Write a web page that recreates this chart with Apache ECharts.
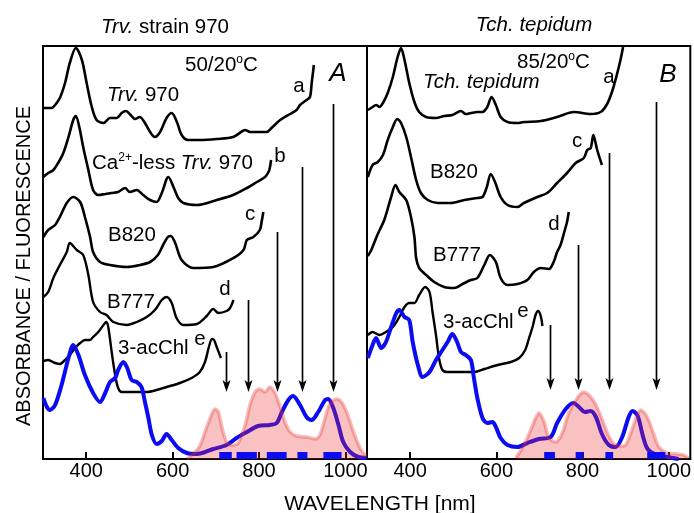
<!DOCTYPE html>
<html lang="en">
<head>
<meta charset="UTF-8">
<title>Absorbance / fluorescence</title>
<script src="https://cdn.jsdelivr.net/npm/echarts@6/dist/echarts.min.js"></script>
<style>
  html, body { margin: 0; padding: 0; background: #fff; }
  #chart { width: 694px; height: 513px; }
</style>
</head>
<body>
<div id="chart"></div>
<script>
// wavelength (nm), offset absorbance (arb. units, 0..413 = panel height)
// panel A: Trv. strain 970
const trvA = [[300,351],[320,351],[328,354],[339,361],[351,376],[362,396],[376,411],[390,399],[401,376],[413,352],[424,339],[440,336],[455,341],[471,341],[482,346],[492,348],[503,344],[513,340],[524,342],[536,336],[548,327],[559,322],[571,327],[586,341],[598,346],[610,337],[621,324],[636,319],[663,319],[702,320],[740,322],[762,328],[768,329],[779,327],[818,327],[829,331],[849,339],[872,345],[887,349],[895,354],[910,359],[918,362],[922,376],[927,394]];
const caLessA = [[301,282],[312,286],[324,289],[335,296],[347,306],[359,322],[370,339],[376,343],[384,332],[393,312],[405,289],[416,269],[428,264],[444,265],[459,266],[474,267],[490,271],[501,267],[517,269],[532,264],[548,259],[563,257],[575,266],[586,280],[590,282],[602,272],[613,261],[625,256],[656,254],[702,259],[740,264],[772,271],[795,277],[814,282],[822,287],[825,291],[828,299]];
const b820A = [[301,222],[312,229],[328,234],[339,242],[355,256],[370,262],[386,257],[397,242],[409,222],[416,207],[432,197],[455,194],[494,192],[525,194],[548,197],[566,204],[578,214],[589,222],[596,223],[606,216],[621,199],[648,191],[694,192],[741,201],[764,209],[772,219],[787,222],[802,229],[806,237],[810,247]];
const b777A = [[301,162],[312,167],[324,181],[339,194],[355,207],[362,216],[378,209],[393,204],[405,184],[416,157],[432,147],[447,144],[463,137],[494,134],[517,137],[540,142],[559,149],[575,159],[586,162],[598,156],[609,141],[625,134],[656,135],[679,143],[694,150],[706,146],[725,148],[733,151],[741,159]];
const acChlA = [[301,98],[312,99],[328,96],[339,95],[351,99],[362,104],[374,111],[386,116],[397,119],[409,119],[416,122],[428,127],[440,134],[446,137],[451,132],[459,107],[467,84],[474,71],[482,67],[509,67],[540,67],[563,69],[586,72],[617,76],[644,81],[663,87],[675,97],[684,112],[691,120],[696,119],[703,111],[712,101]];
const blueA = [[301,61],[309,52],[316,49],[328,54],[343,74],[359,101],[370,114],[382,104],[397,84],[416,66],[432,57],[444,66],[455,77],[467,81],[474,89],[486,97],[495,91],[505,79],[517,77],[528,72],[536,57],[544,41],[552,24],[563,15],[575,18],[586,25],[598,19],[613,11],[633,6],[656,5],[694,10],[725,14],[748,21],[772,27],[798,33],[825,34],[841,36],[853,47],[868,59],[879,63],[895,54],[910,42],[922,39],[937,47],[953,59],[960,60],[972,51],[984,34],[995,17],[1011,7],[1030,2],[1049,1]];
const fluorA = [[633,0],[652,7],[663,13],[675,27],[687,41],[698,50],[706,47],[714,32],[725,17],[737,14],[752,16],[768,34],[779,54],[791,67],[802,70],[814,67],[825,72],[837,66],[849,52],[860,37],[872,27],[887,23],[910,22],[930,20],[941,24],[953,41],[964,55],[980,60],[991,57],[1003,47],[1018,28],[1034,11],[1049,2]];
const arrowsA = [723, 775, 841, 900, 972];
const arrowTopsA = [107, 159, 227, 292, 355];
const bandsA = [[708,737],[748,795],[818,864],[889,912],[949,991]];

// panel B: Tch. tepidum
const tepidumB = [[302,349],[313,352],[321,354],[329,352],[337,356],[348,366],[360,382],[371,402],[379,411],[387,399],[398,376],[410,357],[421,347],[437,342],[460,341],[479,343],[498,344],[518,348],[529,345],[541,346],[556,347],[568,347],[579,352],[589,362],[599,354],[610,342],[626,337],[649,336],[664,337],[703,338],[741,342],[780,347],[819,345],[842,347],[857,355],[869,368],[880,385],[888,399],[894,412]];
const b820B = [[302,282],[313,294],[325,297],[337,304],[348,319],[360,332],[370,340],[379,336],[391,322],[402,302],[414,279],[425,266],[441,259],[464,256],[495,256],[526,259],[556,261],[568,262],[578,272],[587,285],[597,277],[610,262],[626,254],[649,252],[664,256],[695,262],[718,266],[741,276],[764,286],[784,296],[803,301],[811,309],[819,311],[825,324],[834,309],[845,294]];
const b777B = [[302,203],[310,209],[324,224],[340,239],[356,262],[366,274],[375,267],[391,259],[402,242],[410,222],[414,201],[421,191],[437,184],[456,177],[479,172],[502,171],[526,176],[541,179],[556,181],[572,194],[585,204],[599,197],[610,181],[626,174],[649,175],[672,179],[687,187],[703,191],[722,190],[733,197],[741,207],[749,214],[757,226],[764,237],[768,247]];
const acChlB = [[302,124],[313,127],[329,124],[344,127],[360,132],[375,142],[387,152],[398,156],[410,156],[421,164],[435,172],[445,167],[452,147],[460,124],[467,101],[475,89],[487,87],[518,87],[549,87],[572,90],[603,94],[634,97],[653,101],[667,109],[676,121],[684,132],[691,144],[697,148],[703,143],[707,133]];
const blueB = [[302,101],[313,114],[321,121],[333,111],[344,117],[356,132],[368,146],[375,149],[387,142],[398,139],[406,117],[418,94],[429,82],[445,87],[460,99],[475,109],[487,117],[498,125],[509,117],[518,107],[529,104],[541,99],[548,81],[556,61],[568,41],[579,36],[591,37],[599,32],[610,21],[626,14],[649,12],[672,16],[699,20],[726,22],[741,36],[761,50],[779,56],[794,51],[805,47],[819,48],[831,42],[845,25],[861,14],[877,12],[892,22],[907,42],[916,48],[928,43],[940,23],[951,10],[972,4],[995,2],[1023,0]];
const fluorB = [[645,1],[653,6],[664,14],[680,29],[691,41],[699,46],[711,37],[722,21],[738,17],[753,26],[768,46],[788,61],[802,67],[815,64],[830,55],[845,40],[861,23],[876,14],[896,13],[911,25],[926,43],[935,49],[949,43],[965,25],[977,12],[996,6],[1019,5],[1034,4],[1046,1]];
const arrowsB = [724, 789, 861, 970];
const arrowTopsB = [134, 214, 306, 357];
const bandsB = [[711,736],[784,802],[853,871],[950,992]];

const arrowTipA = 67, arrowTipB = 69;
const tickValues = [400, 600, 800, 1000];

const FONT = 'Liberation Sans, Arial, sans-serif';
const FS = 20.5;
const BLUE = '#0c0cf2';

var chart = echarts.init(document.getElementById('chart'));

function curve(data, i, color, width) {
  return {
    type: 'line', xAxisIndex: i, yAxisIndex: i, data: data,
    symbol: 'none', smooth: 0.3, silent: true,
    lineStyle: { color: color, width: width }, z: 2
  };
}
function fluor(data, i) {
  return {
    type: 'line', xAxisIndex: i, yAxisIndex: i, data: data,
    symbol: 'none', smooth: 0.3, silent: true,
    lineStyle: { color: 'rgba(235,45,45,0.33)', width: 3.5 },
    areaStyle: { color: 'rgba(235,45,45,0.42)' }, z: 3
  };
}
function arrows(xs, tops, tip, i) {
  return {
    type: 'custom', xAxisIndex: i, yAxisIndex: i, z: 5, silent: true,
    data: xs.map(function (x, k) { return [x, tops[k], tip]; }),
    renderItem: function (params, api) {
      var a = api.coord([api.value(0), api.value(1)]);
      var b = api.coord([api.value(0), api.value(2)]);
      var x = Math.round(b[0]) + 0.5;
      return { type: 'group', children: [
        { type: 'line', shape: { x1: x, y1: a[1], x2: x, y2: b[1] - 8 },
          style: { stroke: '#000', lineWidth: 1.7 } },
        { type: 'polygon', shape: { points: [[x - 4, b[1] - 12], [x, b[1] - 9], [x + 4, b[1] - 12], [x, b[1]]] },
          style: { fill: '#000' } }
      ] };
    }
  };
}
function bands(list, i) {
  return {
    type: 'custom', xAxisIndex: i, yAxisIndex: i, z: 6, silent: true,
    data: list,
    renderItem: function (params, api) {
      var p0 = api.coord([api.value(0), 7]);
      var p1 = api.coord([api.value(1), 0]);
      return { type: 'rect', shape: { x: p0[0], y: p0[1], width: p1[0] - p0[0], height: p1[1] - p0[1] },
        style: { fill: BLUE } };
    }
  };
}
function xAxis(i) {
  return {
    gridIndex: i, type: 'value', min: 300, max: 1050,
    axisLine: { show: true, lineStyle: { color: '#000', width: 2 } },
    axisTick: { show: true, inside: true, length: 7, customValues: tickValues, lineStyle: { color: '#000', width: 2 } },
    axisLabel: { customValues: tickValues, color: '#000', fontSize: 20, fontFamily: FONT, margin: 2,
      formatter: function (v) { return String(v); } },
    splitLine: { show: false }
  };
}
function yAxis(i) {
  return { gridIndex: i, type: 'value', min: 0, max: 413, show: false };
}
function txt(text, x, y, opt) {
  opt = opt || {};
  var fs = opt.size || FS;
  return {
    type: 'text', x: x, y: y, rotation: opt.rot || 0, z: 10,
    style: {
      text: text, fill: '#000', fontFamily: FONT, fontSize: fs,
      fontStyle: opt.italic ? 'italic' : 'normal',
      textAlign: opt.align || 'left', textVerticalAlign: 'middle',
      rich: {
        i: { fontStyle: 'italic', fontSize: fs, fontFamily: FONT, lineHeight: 23 },
        s: { fontSize: 12, fontFamily: FONT, verticalAlign: 'top', lineHeight: 23 },
        n: { fontSize: fs, fontFamily: FONT, lineHeight: 23 }
      }
    }
  };
}

var option = {
  animation: false,
  backgroundColor: '#fff',
  grid: [
    { left: 43, top: 46, width: 324, height: 413, show: true, borderColor: '#000', borderWidth: 2, backgroundColor: 'transparent' },
    { left: 367, top: 46, width: 325, height: 413, show: true, borderColor: '#000', borderWidth: 2, backgroundColor: 'transparent' }
  ],
  xAxis: [xAxis(0), xAxis(1)],
  yAxis: [yAxis(0), yAxis(1)],
  series: [
    curve(trvA, 0, '#000', 2.6),
    curve(caLessA, 0, '#000', 2.6),
    curve(b820A, 0, '#000', 2.6),
    curve(b777A, 0, '#000', 2.4),
    curve(acChlA, 0, '#000', 2.4),
    curve(blueA, 0, BLUE, 4),
    fluor(fluorA, 0),
    arrows(arrowsA, arrowTopsA, arrowTipA, 0),
    bands(bandsA, 0),
    curve(tepidumB, 1, '#000', 2.6),
    curve(b820B, 1, '#000', 2.6),
    curve(b777B, 1, '#000', 2.6),
    curve(acChlB, 1, '#000', 2.4),
    curve(blueB, 1, BLUE, 4),
    fluor(fluorB, 1),
    arrows(arrowsB, arrowTopsB, arrowTipB, 1),
    bands(bandsB, 1)
  ],
  graphic: [
    // panel A
    txt('{i|Trv.}{n| strain 970}', 165, 27, { align: 'center' }),
    txt('{n|50/20}{s|o}{n|C}', 185, 65),
    txt('A', 338, 74, { align: 'center', italic: true, size: 26 }),
    txt('a', 299, 86, { align: 'center' }),
    txt('{i|Trv.}{n| 970}', 107, 95),
    txt('{n|Ca}{s|2+}{n|-less }{i|Trv.}{n| 970}', 92, 163),
    txt('b', 280, 156, { align: 'center' }),
    txt('B820', 108, 235),
    txt('c', 250, 214, { align: 'center' }),
    txt('B777', 107, 302),
    txt('d', 225, 289, { align: 'center' }),
    txt('3-acChl', 118, 348),
    txt('e', 200, 339, { align: 'center' }),
    // panel B
    txt('{i|Tch. tepidum}', 534, 25, { align: 'center' }),
    txt('{n|85/20}{s|o}{n|C}', 517, 62),
    txt('{i|Tch. tepidum}', 423, 82),
    txt('a', 609, 77, { align: 'center' }),
    txt('B', 668, 75, { align: 'center', italic: true, size: 26 }),
    txt('c', 577, 141, { align: 'center' }),
    txt('B820', 430, 172),
    txt('d', 554, 224, { align: 'center' }),
    txt('B777', 433, 255),
    txt('3-acChl', 443, 322),
    txt('e', 523, 311, { align: 'center' }),
    // axis names
    txt('ABSORBANCE / FLUORESCENCE', 24, 266, { align: 'center', rot: Math.PI / 2, size: 20 }),
    txt('WAVELENGTH [nm]', 380, 504, { align: 'center', size: 21 })
  ]
};

chart.setOption(option);
</script>
</body>
</html>
